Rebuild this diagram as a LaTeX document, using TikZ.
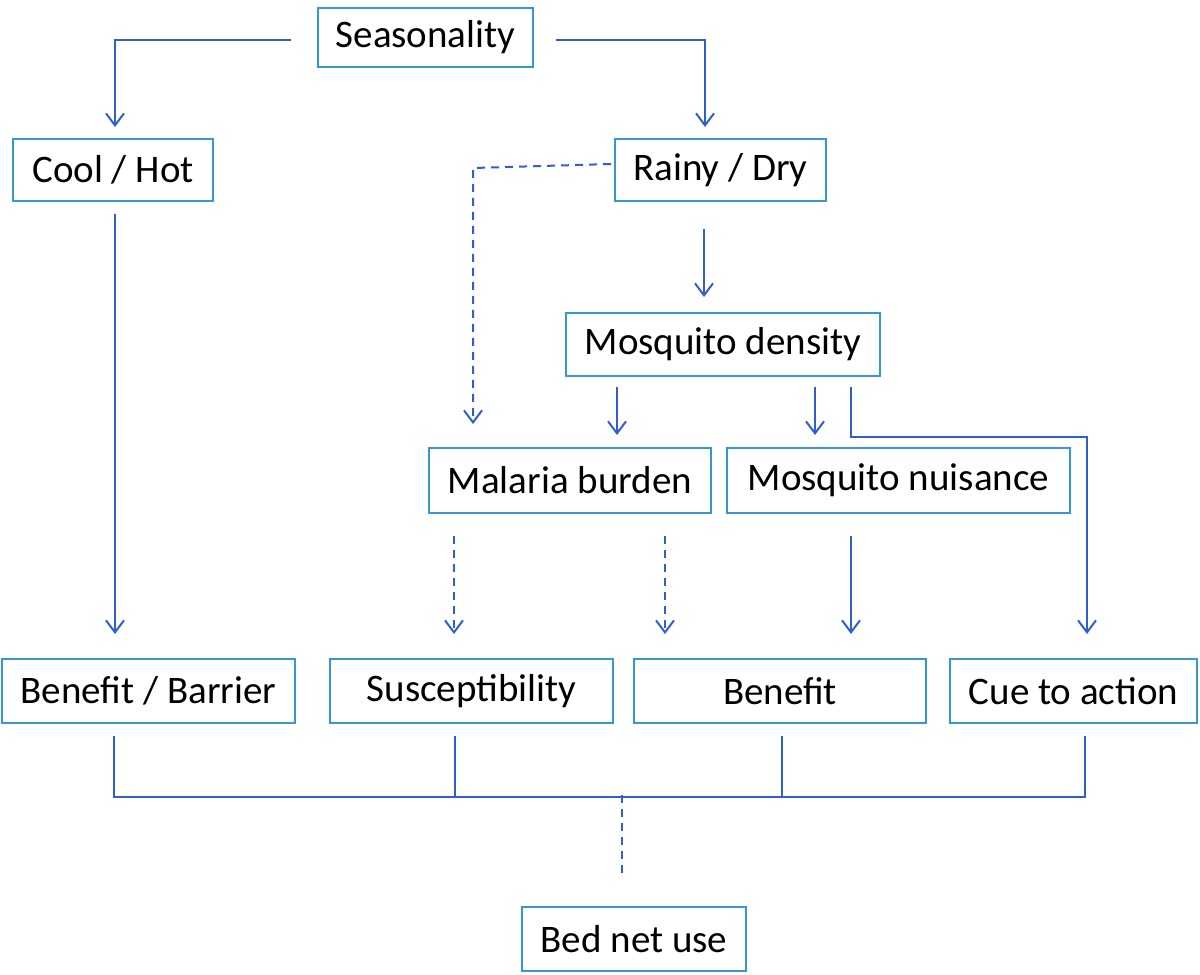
\documentclass[tikz,border=0pt]{standalone}
\usepackage{fontspec}
\setmainfont{Carlito}
\usetikzlibrary{arrows.meta,calc}
\definecolor{boxc}{RGB}{52,152,211}
\definecolor{linec}{RGB}{47,95,205}
\tikzset{
  box/.style={draw=boxc, line width=2pt, inner sep=0pt, align=center,
    font=\fontsize{39}{42}\selectfont, text=black},
  conn/.style={draw=linec, line width=2pt},
  arr/.style={conn, -{Straight Barb[length=12pt,width=18pt,line width=2pt]}},
  dsh/.style={dash pattern=on 8pt off 6pt}
}
\begin{document}
\begin{tikzpicture}[x=1pt,y=-1pt]
\useasboundingbox (0,0) rectangle (1200,975);
% nodes
\node[box, minimum width=215pt, minimum height=59pt] (sea) at (425.5,37.5) {Seasonality};
\node[box, minimum width=200pt, minimum height=62pt] (cool) at (113,170) {Cool / Hot};
\node[box, minimum width=211pt, minimum height=62pt] (rainy) at (720.5,170) {Rainy / Dry};
\node[box, minimum width=314pt, minimum height=63pt] (md) at (723,344.5) {Mosquito density};
\node[box, minimum width=282pt, minimum height=65pt] (mal) at (570,480.5) {Malaria burden};
\node[box, minimum width=343pt, minimum height=65pt] (nuis) at (898.5,480.5) {Mosquito nuisance};
\node[box, minimum width=293pt, minimum height=64pt] (bb) at (148.5,691) {Benefit / Barrier};
\node[box, minimum width=283pt, minimum height=64pt] (sus) at (471.5,691) {Susceptibility};
\node[box, minimum width=292pt, minimum height=64pt] (ben) at (780,691) {Benefit};
\node[box, minimum width=247pt, minimum height=64pt] (cue) at (1073.5,691) {Cue to action};
\node[box, minimum width=224pt, minimum height=64pt] (bed) at (634,939) {Bed net use};
% connectors
\draw[arr] ($(sea.west)+(-26,2.5)$) -| ($(cool.north)+(2,-11)$);
\draw[arr] ($(sea.east)+(22,2.5)$) -| ($(rainy.north)+(-15.5,-11)$);
\draw[arr] ($(cool.south)+(2,12)$) -- ($(bb.north)+(-33.5,-24)$);
\draw[arr,dsh] ($(rainy.west)+(-3,-6)$) -- ($(mal.north)+(-97,-279)$) -- ($(mal.north)+(-97,-23)$);
\draw[arr] ($(rainy.south)+(-16.5,27)$) -- ($(md.north)+(-19,-15)$);
\draw[arr] ($(md.south)+(-106,10)$) -- ($(mal.north)+(47,-12)$);
\draw[arr] ($(md.south)+(92,10)$) -- ($(nuis.north)+(-83.5,-12)$);
\draw[arr] ($(md.south)+(128,10)$) -- ++(0,50) -| ($(cue.north)+(13.5,-24)$);
\draw[arr,dsh] ($(mal.south)+(-116,22)$) -- ($(sus.north)+(-17.5,-24)$);
\draw[arr,dsh] ($(mal.south)+(95,22)$) -- ($(ben.north)+(-115,-24)$);
\draw[arr] ($(nuis.south)+(-47.5,22)$) -- ($(ben.north)+(71,-24)$);
% bottom bracket
\draw[conn] ($(bb.south)+(-34.5,12)$) |- ($(cue.south)+(11.5,73)$) -- ($(cue.south)+(11.5,12)$);
\draw[conn] ($(sus.south)+(-16.5,12)$) -- ++(0,61);
\draw[conn] ($(ben.south)+(2,12)$) -- ++(0,61);
\coordinate (join) at ($(bed.north)+(-12,-111)$);
\draw[conn,dsh] (join) -- ($(bed.north)+(-12,-30)$);
\end{tikzpicture}
\end{document}
